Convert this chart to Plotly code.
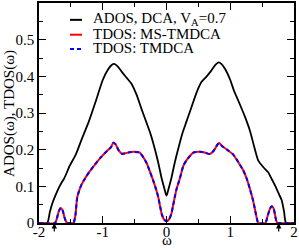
import plotly.graph_objects as go

# ---- data ----
ados_w = [-2.0, -1.87, -1.83, -1.79, -1.73, -1.686, -1.64, -1.61, -1.57, -1.53, -1.42, -1.32, -1.216, -1.11,
          -1.0, -0.92, -0.86, -0.82, -0.77, -0.70, -0.62, -0.55, -0.47, -0.39, -0.31, -0.25, -0.18, -0.13,
          -0.08, -0.04, -0.02, 0.0, 0.02, 0.04, 0.08, 0.13, 0.18, 0.25, 0.31, 0.39, 0.47, 0.55, 0.62, 0.70,
          0.77, 0.82, 0.86, 0.92, 1.0, 1.06, 1.13, 1.23, 1.31, 1.38, 1.44, 1.52, 1.597, 1.65, 1.70, 1.76,
          1.807, 1.845, 1.875, 2.0]
ados_v = [0.0, 0.0, 0.03, 0.054, 0.08, 0.097, 0.112, 0.12, 0.135, 0.152, 0.188, 0.233, 0.278, 0.332,
          0.39, 0.418, 0.431, 0.434, 0.428, 0.412, 0.395, 0.38, 0.35, 0.31, 0.272, 0.243, 0.20, 0.165,
          0.125, 0.098, 0.085, 0.075, 0.085, 0.098, 0.125, 0.165, 0.20, 0.245, 0.275, 0.315, 0.355, 0.385,
          0.398, 0.415, 0.432, 0.438, 0.434, 0.42, 0.39, 0.36, 0.332, 0.29, 0.251, 0.205, 0.17, 0.152,
          0.138, 0.12, 0.103, 0.08, 0.062, 0.03, 0.0, 0.0]

tdos_w = [-2.0, -1.75, -1.72, -1.69, -1.66, -1.63, -1.60, -1.57, -1.55, -1.46, -1.43, -1.40, -1.35, -1.30,
          -1.216, -1.12, -1.03, -0.93, -0.87, -0.835, -0.80, -0.75, -0.70, -0.65, -0.58, -0.50, -0.42,
          -0.36, -0.31, -0.26, -0.207, -0.16, -0.129, -0.10, -0.076, -0.04, 0.0, 0.04, 0.076, 0.10, 0.129,
          0.16, 0.207, 0.264, 0.31, 0.369, 0.42, 0.525, 0.60, 0.68, 0.74, 0.80, 0.828, 0.87, 0.95, 1.05,
          1.13, 1.205, 1.26, 1.31, 1.36, 1.39, 1.42, 1.44, 1.55, 1.58, 1.62, 1.65, 1.68, 1.71, 1.73, 1.75, 2.0]
tdos_ms = [0.0, 0.0, 0.012, 0.032, 0.041, 0.035, 0.015, 0.002, 0.0, 0.0, 0.02, 0.07, 0.098, 0.115,
           0.138, 0.16, 0.179, 0.197, 0.207, 0.219, 0.215, 0.198, 0.189, 0.19, 0.193, 0.194, 0.192,
           0.178, 0.163, 0.14, 0.115, 0.09, 0.07, 0.045, 0.025, 0.01, 0.005, 0.01, 0.025, 0.045, 0.07,
           0.094, 0.12, 0.156, 0.17, 0.183, 0.192, 0.194, 0.192, 0.188, 0.197, 0.214, 0.218, 0.21, 0.2,
           0.186, 0.165, 0.143, 0.12, 0.092, 0.06, 0.035, 0.01, 0.0, 0.0, 0.015, 0.038, 0.046, 0.04,
           0.015, 0.002, 0.0, 0.0]
tdos_tm = list(tdos_ms)

arrow_w = [-1.76, 1.76]

xtick_vals = [-2, -1, 0, 1, 2]
xtick_text = ["-2", "-1", "0", "1", "2"]
ytick_vals = [0, 0.1, 0.2, 0.3, 0.4, 0.5]
ytick_text = ["0", "0.1", "0.2", "0.3", "0.4", "0.5"]

FONT = "Liberation Serif, Times New Roman, serif"

fig = go.Figure()
fig.add_trace(go.Scatter(x=ados_w, y=ados_v, mode="lines",
                         line=dict(color="black", width=1.8, shape="spline", smoothing=0.6),
                         showlegend=False))
fig.add_trace(go.Scatter(x=tdos_w, y=tdos_ms, mode="lines",
                         line=dict(color="#ff0000", width=2, shape="spline", smoothing=0.6),
                         showlegend=False))
fig.add_trace(go.Scatter(x=tdos_w, y=tdos_tm, mode="lines",
                         line=dict(color="#0000ff", width=2, dash="4px,3px", shape="spline", smoothing=0.6),
                         showlegend=False))

axis_common = dict(showline=True, linecolor="black", linewidth=1.5, mirror="ticks",
                   ticks="inside", ticklen=7, tickwidth=1.2, tickcolor="black",
                   showgrid=False, zeroline=False,
                   tickfont=dict(family=FONT, size=15, color="black"))

fig.update_xaxes(range=[-2, 2], tickvals=xtick_vals, ticktext=xtick_text, ticklabelstandoff=-6,
                 minor=dict(ticks="inside", ticklen=4, dtick=0.5, tickcolor="black", tickwidth=1.2),
                 **axis_common)
fig.update_yaxes(range=[0, 0.6], tickvals=ytick_vals, ticktext=ytick_text,
                 minor=dict(ticks="inside", ticklen=4, dtick=0.05, tick0=0, tickcolor="black", tickwidth=1.2),
                 **axis_common)

annots = []
# axis titles
annots.append(dict(text="ADOS(ω), TDOS(ω)", xref="paper", yref="paper", x=-0.118, y=0.5,
                   textangle=-90, showarrow=False, xanchor="center", yanchor="middle",
                   font=dict(family=FONT, size=15, color="black")))
annots.append(dict(text="ω", xref="paper", yref="paper", x=0.5, y=-0.1216,
                   showarrow=False, xanchor="center", yanchor="bottom",
                   font=dict(family=FONT, size=15, color="black")))
# arrows
for w in arrow_w:
    annots.append(dict(x=w, y=0, xref="x", yref="y", text="", showarrow=True,
                       ax=0, ay=10, arrowhead=2, arrowsize=0.9, arrowwidth=1.2, arrowcolor="black"))

# manual legend
leg_items = [("ADOS, DCA, V<sub>A</sub>=0.7", "black", "solid", 0.9234),
             ("TDOS: MS-TMDCA", "#ff0000", "solid", 0.8559),
             ("TDOS: TMDCA", "#0000ff", "4px,3px", 0.7905)]
shapes = []
for txt, col, dash, yy in leg_items:
    shapes.append(dict(type="line", xref="paper", yref="paper", x0=0.1216, x1=0.1686, y0=yy, y1=yy,
                       line=dict(color=col, width=2, dash=dash)))
    annots.append(dict(text=txt, xref="paper", yref="paper", x=0.204, y=yy + 0.004, showarrow=False,
                       xanchor="left", yanchor="middle",
                       font=dict(family=FONT, size=15, color="black")))

fig.update_layout(width=299, height=250, margin=dict(l=39, r=5, t=1, b=27),
                  paper_bgcolor="white", plot_bgcolor="white",
                  annotations=annots, shapes=shapes, showlegend=False)

fig.write_html("out.html", config={"displayModeBar": False},
               post_script="document.body.style.margin='0px';document.body.style.overflow='hidden';")
